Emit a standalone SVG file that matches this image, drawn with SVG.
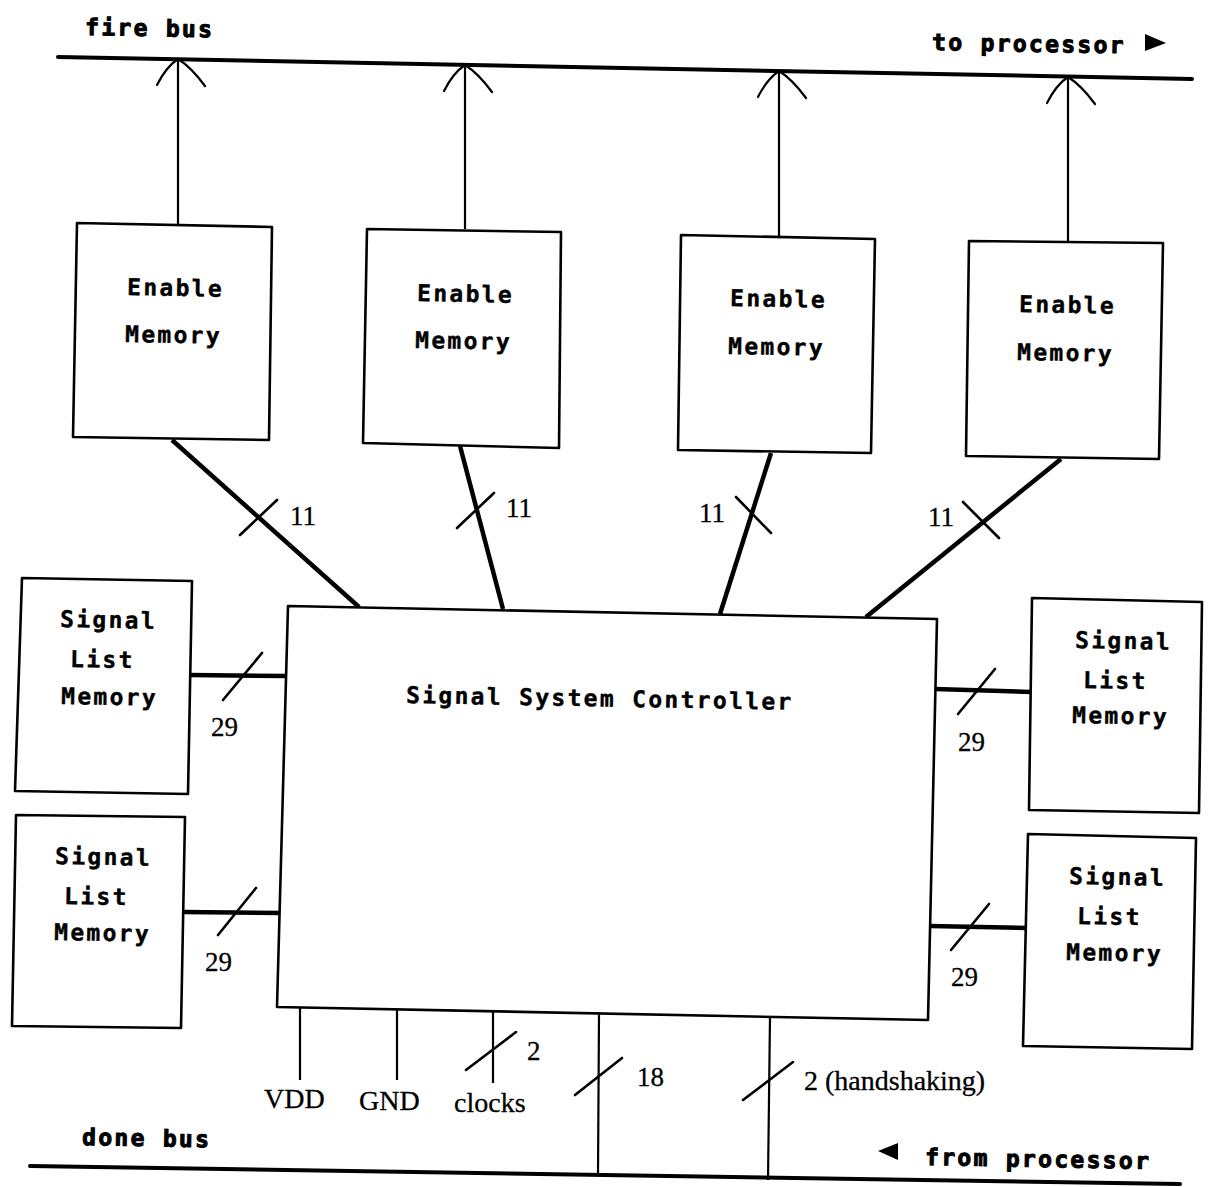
<svg xmlns="http://www.w3.org/2000/svg" xmlns:xlink="http://www.w3.org/1999/xlink" width="1210" height="1187" viewBox="0 0 1210 1187">
  <style>
    .box { fill: #fff; stroke: #000; stroke-width: 2.6; stroke-linejoin: round; }
    .lbl { font-family: "DejaVu Sans Mono", "Liberation Mono", monospace; font-weight: bold; font-size: 23px; letter-spacing: 2.3px; fill: #000; stroke: #000; stroke-width: 0.4; }
    .heavy { stroke-width: 1; }
    .num { font-family: "Liberation Serif", "Times New Roman", serif; font-size: 27px; fill: #000; stroke: #000; stroke-width: 0.3; }
    .word { font-size: 28px; }
    .bus { stroke: #000; stroke-width: 4; fill: none; stroke-linecap: round; }
    .wide { stroke: #000; stroke-width: 4.5; fill: none; }
    .thin { stroke: #000; stroke-width: 2.2; fill: none; }
    .tick { stroke: #000; stroke-width: 2.6; fill: none; stroke-linecap: round; }
    .head { stroke: #000; stroke-width: 2.2; fill: none; stroke-linecap: round; }
  </style>
  <defs>
    <!-- open curved arrowhead, apex at the origin -->
    <path id="arrowhead" class="head" d="M-21,26 Q-12,8 0,0 Q13,8 27,27"/>
  </defs>

  <rect width="1210" height="1187" fill="#fff"/>

  <!-- buses -->
  <g id="buses">
    <line class="bus" x1="58" y1="57" x2="1192" y2="79"/>
    <line class="bus" x1="30" y1="1166" x2="1180" y2="1184"/>
    <text class="lbl heavy" x="85" y="35" transform="rotate(1 85 35)">fire bus</text>
    <text class="lbl heavy" x="932" y="50" transform="rotate(1 932 50)">to processor</text>
    <polygon points="1145,34 1166,43 1145,51" fill="#000"/>
    <text class="lbl heavy" x="82" y="1145" transform="rotate(1 82 1145)">done bus</text>
    <polygon points="898,1143 878,1151 898,1160" fill="#000"/>
    <text class="lbl heavy" x="925" y="1165" transform="rotate(1 925 1165)">from processor</text>
  </g>

  <!-- connectors -->
  <g id="connectors">
    <!-- enable memories up to the fire bus -->
    <line class="thin" x1="178" y1="224" x2="178" y2="59"/>
    <use xlink:href="#arrowhead" x="178" y="59"/>
    <line class="thin" x1="465" y1="229" x2="465" y2="65"/>
    <use xlink:href="#arrowhead" x="465" y="65"/>
    <line class="thin" x1="779" y1="236" x2="779" y2="71"/>
    <use xlink:href="#arrowhead" x="779" y="71"/>
    <line class="thin" x1="1068" y1="241" x2="1068" y2="77"/>
    <use xlink:href="#arrowhead" x="1068" y="77"/>

    <!-- enable memories to controller, 11 lines each -->
    <line class="wide" x1="172" y1="440" x2="359" y2="607"/>
    <line class="tick" x1="240" y1="535" x2="277" y2="500"/>
    <text class="num" x="290" y="525">11</text>

    <line class="wide" x1="460" y1="446" x2="503" y2="609"/>
    <line class="tick" x1="457" y1="528" x2="494" y2="493"/>
    <text class="num" x="506" y="517">11</text>

    <line class="wide" x1="771" y1="453" x2="720" y2="614"/>
    <line class="tick" x1="736" y1="497" x2="771" y2="533"/>
    <text class="num" x="699" y="522">11</text>

    <line class="wide" x1="1061" y1="459" x2="866" y2="617"/>
    <line class="tick" x1="963" y1="502" x2="999" y2="538"/>
    <text class="num" x="928" y="526">11</text>

    <!-- signal list memories, 29 lines each -->
    <line class="wide" x1="189" y1="675" x2="287" y2="676"/>
    <line class="tick" x1="223" y1="700" x2="262" y2="653"/>
    <text class="num" x="211" y="736">29</text>

    <line class="wide" x1="183" y1="912" x2="281" y2="913"/>
    <line class="tick" x1="218" y1="935" x2="256" y2="888"/>
    <text class="num" x="205" y="971">29</text>

    <line class="wide" x1="935" y1="689" x2="1031" y2="692"/>
    <line class="tick" x1="958" y1="714" x2="995" y2="669"/>
    <text class="num" x="958" y="751">29</text>

    <line class="wide" x1="930" y1="926" x2="1026" y2="928"/>
    <line class="tick" x1="951" y1="950" x2="989" y2="904"/>
    <text class="num" x="951" y="986">29</text>

    <!-- controller bottom pins -->
    <line class="thin" x1="300" y1="1008" x2="300" y2="1080"/>
    <text class="num word" x="264" y="1108">VDD</text>
    <line class="thin" x1="397" y1="1010" x2="397" y2="1080"/>
    <text class="num word" x="359" y="1110">GND</text>
    <line class="thin" x1="493" y1="1012" x2="493" y2="1083"/>
    <line class="tick" x1="466" y1="1070" x2="516" y2="1032"/>
    <text class="num" x="527" y="1060">2</text>
    <text class="num word" x="454" y="1112">clocks</text>

    <line class="thin" x1="599" y1="1014" x2="598" y2="1175"/>
    <line class="tick" x1="575" y1="1095" x2="622" y2="1058"/>
    <text class="num" x="637" y="1086">18</text>

    <line class="thin" x1="770" y1="1017" x2="768" y2="1180"/>
    <line class="tick" x1="743" y1="1100" x2="793" y2="1062"/>
    <text class="num word" x="804" y="1090">2 (handshaking)</text>
  </g>

  <!-- enable memories -->
  <g id="enable-memory-1">
    <polygon class="box" points="77,223 272,227 269,440 73,437"/>
    <text class="lbl" x="127" y="295" transform="rotate(1 127 295)">Enable</text>
    <text class="lbl" x="125" y="342" transform="rotate(1 125 342)">Memory</text>
  </g>
  <g id="enable-memory-2">
    <polygon class="box" points="367,229 561,232 559,448 363,443"/>
    <text class="lbl" x="417" y="301" transform="rotate(1 417 301)">Enable</text>
    <text class="lbl" x="415" y="348" transform="rotate(1 415 348)">Memory</text>
  </g>
  <g id="enable-memory-3">
    <polygon class="box" points="681,235 875,239 871,453 678,450"/>
    <text class="lbl" x="730" y="306" transform="rotate(1 730 306)">Enable</text>
    <text class="lbl" x="728" y="354" transform="rotate(1 728 354)">Memory</text>
  </g>
  <g id="enable-memory-4">
    <polygon class="box" points="969,241 1163,243 1159,459 966,456"/>
    <text class="lbl" x="1019" y="312" transform="rotate(1 1019 312)">Enable</text>
    <text class="lbl" x="1017" y="360" transform="rotate(1 1017 360)">Memory</text>
  </g>

  <!-- controller -->
  <g id="signal-system-controller">
    <polygon class="box" points="288,606 937,619 928,1020 277,1007"/>
    <text class="lbl" x="406" y="703" transform="rotate(1 406 703)">Signal System Controller</text>
  </g>

  <!-- signal list memories -->
  <g id="signal-list-memory-1">
    <polygon class="box" points="22,578 192,581 188,794 15,791"/>
    <text class="lbl" x="60" y="627" transform="rotate(1 60 627)">Signal</text>
    <text class="lbl" x="70" y="667" transform="rotate(1 70 667)">List</text>
    <text class="lbl" x="61" y="704" transform="rotate(1 61 704)">Memory</text>
  </g>
  <g id="signal-list-memory-2">
    <polygon class="box" points="16,815 185,817 181,1028 12,1026"/>
    <text class="lbl" x="55" y="864" transform="rotate(1 55 864)">Signal</text>
    <text class="lbl" x="64" y="904" transform="rotate(1 64 904)">List</text>
    <text class="lbl" x="54" y="940" transform="rotate(1 54 940)">Memory</text>
  </g>
  <g id="signal-list-memory-3">
    <polygon class="box" points="1032,598 1202,602 1199,813 1029,810"/>
    <text class="lbl" x="1075" y="648" transform="rotate(1 1075 648)">Signal</text>
    <text class="lbl" x="1083" y="688" transform="rotate(1 1083 688)">List</text>
    <text class="lbl" x="1072" y="723" transform="rotate(1 1072 723)">Memory</text>
  </g>
  <g id="signal-list-memory-4">
    <polygon class="box" points="1028,834 1196,838 1192,1049 1023,1046"/>
    <text class="lbl" x="1069" y="884" transform="rotate(1 1069 884)">Signal</text>
    <text class="lbl" x="1077" y="924" transform="rotate(1 1077 924)">List</text>
    <text class="lbl" x="1066" y="960" transform="rotate(1 1066 960)">Memory</text>
  </g>
</svg>
